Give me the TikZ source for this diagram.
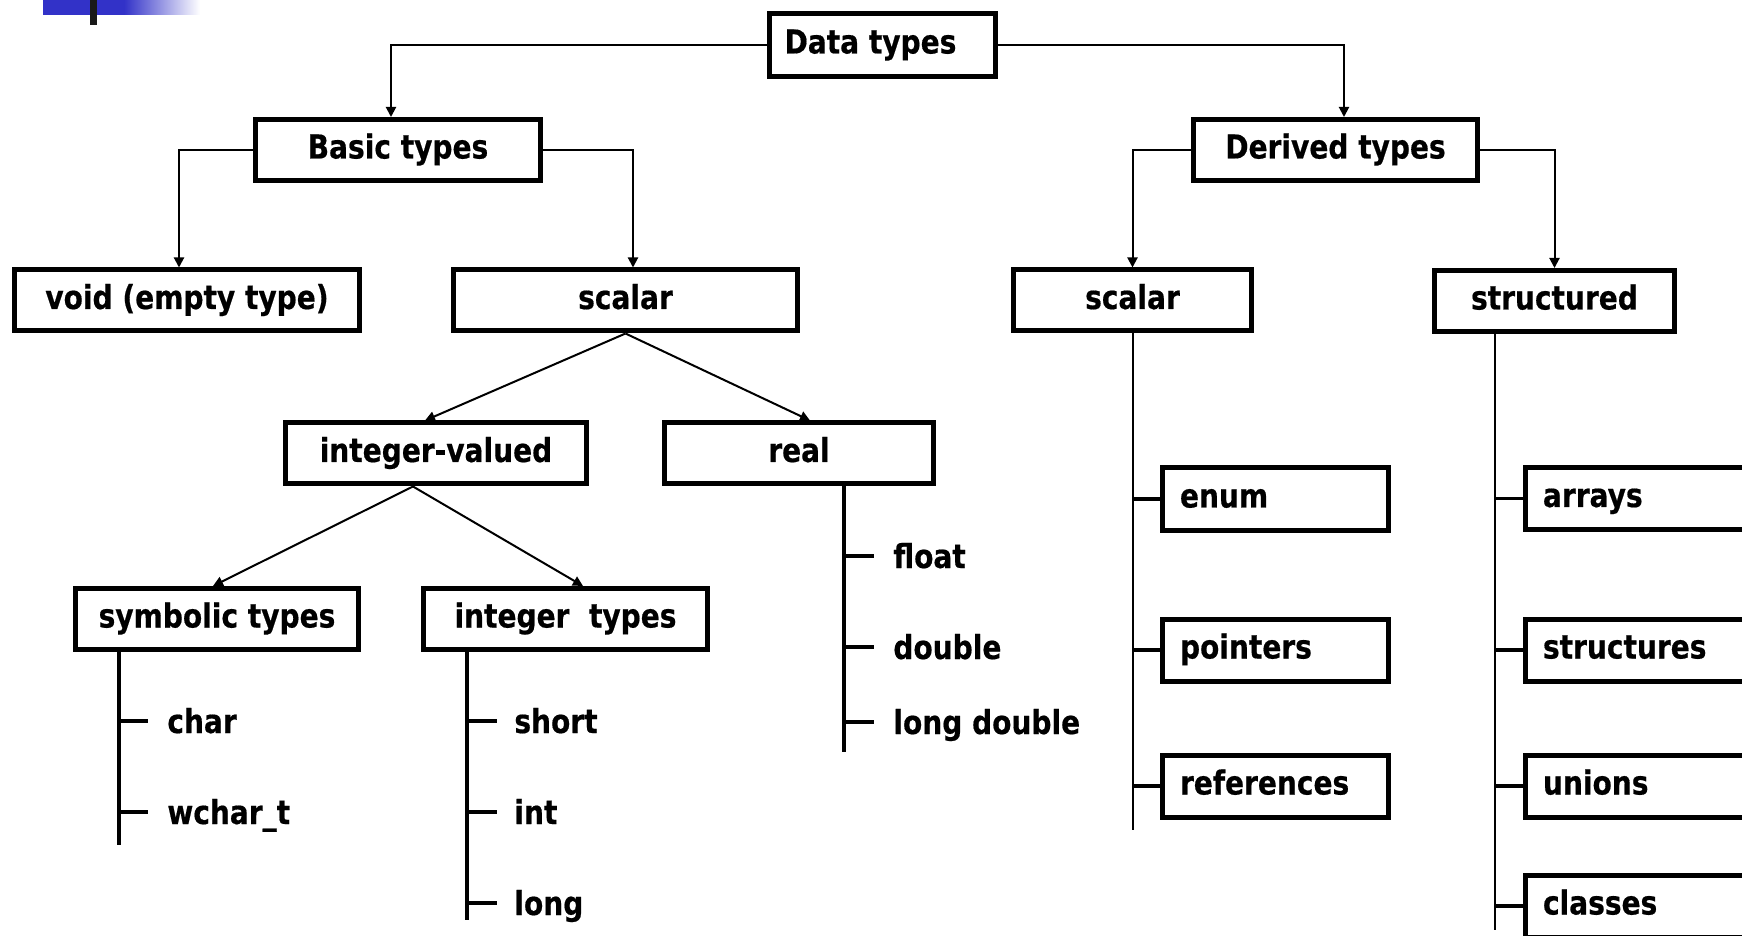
\documentclass[tikz,border=0pt]{standalone}
\usepackage{fontspec}
\setmainfont{DejaVu Sans}[FakeStretch=0.85, BoldFeatures={FakeBold=0.5}]
\usetikzlibrary{arrows.meta}
\definecolor{barblue}{RGB}{50,50,200}
\newcommand\dtfont{\bfseries\fontsize{16.5pt}{19pt}\selectfont}
\begin{document}
\begin{tikzpicture}[x=0.5pt,y=-0.5pt,
  box/.style={draw, line width=2.5pt, inner xsep=0pt, inner ysep=0pt,
    minimum height=30.5pt, text height=12pt, text depth=3.5pt, font=\dtfont},
  lbox/.style={box, inner xsep=8.75pt, align=left, minimum height=31pt},
  conn/.style={line width=1pt, -{Triangle[length=5pt,width=5pt]}},
  treeline/.style={line width=2pt},
  thintree/.style={line width=1pt},
  tickline/.style={line width=1.75pt},
  lbl/.style={anchor=west, inner sep=0pt, text height=12pt, text depth=0pt, font=\dtfont}]
\useasboundingbox (0,0) rectangle (1742,936);
\clip (0,0) rectangle (1742,936);

% corner decoration
\fill[barblue] (43,0) rectangle (125,15);
\shade[left color=barblue, right color=white] (124,0) rectangle (200,15);
\fill[black!90] (90,0) rectangle (97,25);

% boxes
\node[box, minimum width=113pt, minimum height=31.5pt] (data) at (882.5,45) {\hspace*{-12pt}Data types};
\node[box, minimum width=142.5pt] (basic) at (398,150) {Basic types};
\node[box, minimum width=142pt] (derived) at (1335.5,150) {Derived types};
\node[box, minimum width=172.5pt] (void) at (187,300.5) {void (empty type)};
\node[box, minimum width=172pt] (bscalar) at (625.5,300.5) {scalar};
\node[box, minimum width=119pt] (dscalar) at (1132.5,300.5) {scalar};
\node[box, minimum width=120pt] (structured) at (1554.5,301) {structured};
\node[box, minimum width=150.5pt] (intval) at (436,453.5) {integer-valued};
\node[box, minimum width=134.5pt] (real) at (799,453.5) {real};
\node[box, minimum width=141.5pt] (symbolic) at (217,619) {symbolic types};
\node[box, minimum width=142pt] (inttypes) at (565.5,619) {integer~~types};

\node[lbox, text width=95.5pt] (enum) at (1275.5,499) {enum};
\node[lbox, text width=95.5pt] (pointers) at (1275.5,650) {pointers};
\node[lbox, text width=95.5pt] (references) at (1275.5,786) {references};

\node[lbox, text width=110pt] (arrays) at (1653,498.5) {arrays};
\node[lbox, text width=110pt] (structures) at (1653,650) {structures};
\node[lbox, text width=110pt] (unions) at (1653,786) {unions};
\node[lbox, text width=110pt] (classes) at (1653,906) {classes};

% connectors
\draw[conn] (data.west) -| ([xshift=-3.5pt]basic.north);
\draw[conn] (data.east) -| ([xshift=4.25pt]derived.north);
\draw[conn] (basic.west) -| ([xshift=-4pt]void.north);
\draw[conn] (basic.east) -| ([xshift=3.75pt]bscalar.north);
\draw[conn] (derived.west) -| (dscalar.north);
\draw[conn] (derived.east) -| (structured.north);

\draw[conn] (bscalar.south) -- ([xshift=-5.5pt]intval.north);
\draw[conn] (bscalar.south) -- ([xshift=5.5pt]real.north);
\draw[conn] ([xshift=-11.5pt]intval.south) -- ([xshift=-2pt]symbolic.north);
\draw[conn] ([xshift=-11.5pt]intval.south) -- ([xshift=8.75pt]inttypes.north);

% symbolic types list
\coordinate (symend) at (119,845);
\draw[treeline] (symbolic.south -| symend) -- (symend);
\node[lbl] (char) at (167,721) {char};
\node[lbl] (wchar) at (167,812) {wchar\_t};
\draw[treeline] (symend |- char.west) -- ++(29,0);
\draw[treeline] (symend |- wchar.west) -- ++(29,0);

% integer types list
\coordinate (itend) at (467,920);
\draw[treeline] (inttypes.south -| itend) -- (itend);
\node[lbl] (short) at (514,721) {short};
\node[lbl] (int) at (514,812) {int};
\node[lbl] (long) at (514,903) {long};
\draw[treeline] (itend |- short.west) -- ++(30,0);
\draw[treeline] (itend |- int.west) -- ++(30,0);
\draw[treeline] (itend |- long.west) -- ++(30,0);

% real list
\coordinate (realend) at (844,752);
\draw[treeline] (real.south -| realend) -- (realend);
\node[lbl] (float) at (893,556) {float};
\node[lbl] (double) at (893,647) {double};
\node[lbl] (ldouble) at (893,722) {long double};
\draw[treeline] (realend |- float.west) -- ++(30,0);
\draw[treeline] (realend |- double.west) -- ++(30,0);
\draw[treeline] (realend |- ldouble.west) -- ++(30,0);

% derived scalar list
\coordinate (dsend) at (1132.5,830);
\draw[thintree] (dscalar.south) -- (dsend);
\draw[tickline] (dsend |- enum.west) -- (enum.west);
\draw[tickline] (dsend |- pointers.west) -- (pointers.west);
\draw[tickline] (dsend |- references.west) -- (references.west);

% structured list
\coordinate (stend) at (1495,930);
\draw[thintree] (structured.south -| stend) -- (stend);
\draw[tickline] (stend |- arrays.west) -- (arrays.west);
\draw[tickline] (stend |- structures.west) -- (structures.west);
\draw[tickline] (stend |- unions.west) -- (unions.west);
\draw[tickline] (stend |- classes.west) -- (classes.west);
\end{tikzpicture}
\end{document}
